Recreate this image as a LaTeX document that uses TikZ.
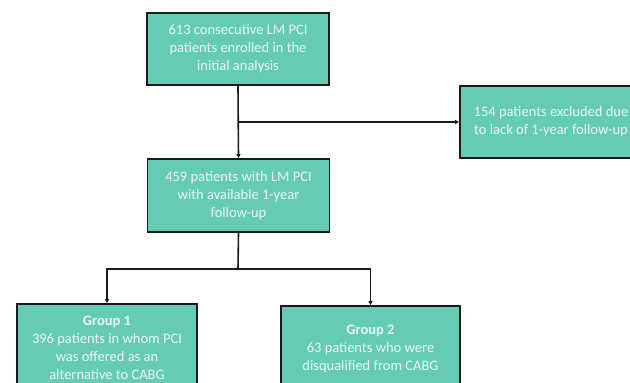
\documentclass[tikz,border=0pt]{standalone}
\usepackage{fontspec}
\setmainfont{Carlito}
\usetikzlibrary{arrows.meta}
\definecolor{boxfill}{HTML}{66CBB3}
\definecolor{boxtext}{HTML}{EAF8F3}
\definecolor{edge}{HTML}{1A1A1A}
\tikzset{
  flowbox/.style={draw=edge, line width=1.8pt, fill=boxfill, text=boxtext,
    align=center, inner sep=0pt, font=\fontsize{14.5}{18}\selectfont},
  conn/.style={draw=edge, line width=1.6pt},
  arr/.style={conn, -{Triangle[length=4pt,width=4pt]}}
}
\begin{document}
\begin{tikzpicture}[x=1pt,y=-1pt]
\useasboundingbox (0,0) rectangle (630,383);
\clip (0,0) rectangle (630,383);
\fill[white] (0,0) rectangle (630,383);
\node[flowbox, minimum width=182pt, minimum height=72pt] (top) at (238,49)
  {613 consecutive LM PCI\\patients enrolled in the\\initial analysis};
\node[flowbox, minimum width=182pt, minimum height=73pt] (mid) at (238.5,195.5)
  {459 patients with LM PCI\\with available 1-year\\follow-up};
\node[flowbox, minimum width=182pt, minimum height=72pt] (exc) at (551,122)
  {154 patients excluded due\\to lack of 1-year follow-up};
\node[flowbox, minimum width=180pt, minimum height=88pt] (g1) at (107,348)
  {\textbf{Group 1}\\396 patients in whom PCI\\was offered as an\\alternative to CABG};
\node[flowbox, minimum width=179pt, minimum height=86pt] (g2) at (370.5,349)
  {\textbf{Group 2}\\63 patients who were\\disqualified from CABG};
\coordinate (b1) at (238,122);
\coordinate (b2) at (238,269);
\draw[arr] (top.south) -- (mid.north);
\draw[arr] (b1) -- (exc.west);
\draw[conn] (mid.south) -- (b2);
\draw[arr] (b2) -| (g1.north -| 107,0);
\draw[arr] (b2) -| (g2.north);
\end{tikzpicture}
\end{document}
